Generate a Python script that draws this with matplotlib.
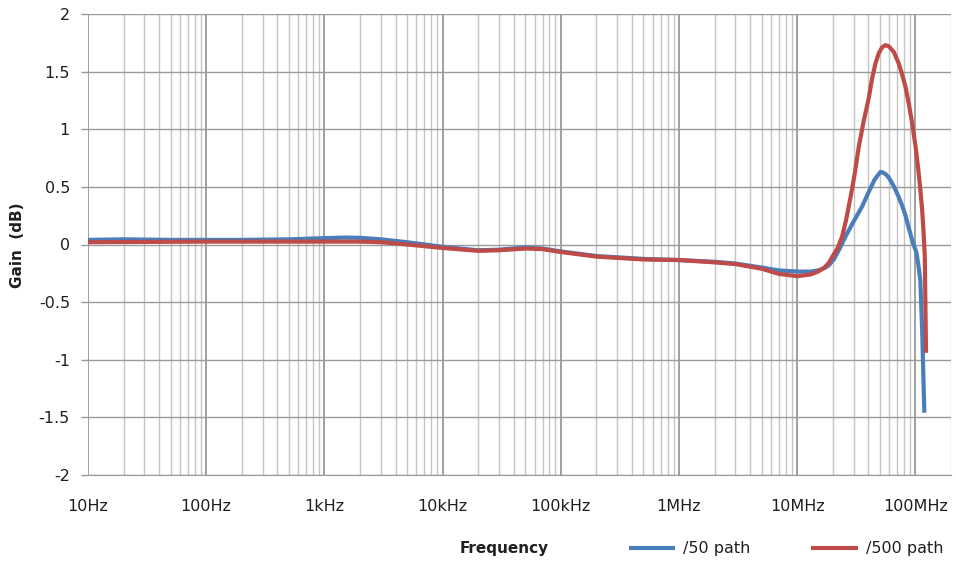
import matplotlib
matplotlib.use("Agg")
import matplotlib.pyplot as plt
from matplotlib.ticker import FixedLocator, NullFormatter, LogLocator

plt.rcParams['font.family'] = ['DejaVu Sans']

# ---- data ----
freq_50 = [10, 20, 50, 100, 200, 500, 1e3, 1.5e3, 2e3, 3e3, 5e3, 10e3, 20e3, 30e3,
           50e3, 70e3, 100e3, 200e3, 500e3, 1e6, 2e6, 3e6, 5e6, 7e6, 10e6, 13e6,
           15e6, 17e6, 18.5e6, 20.4e6, 23e6, 25.6e6, 30e6, 35.4e6, 40e6, 45e6, 48e6,
           50.6e6, 53e6, 56e6, 59e6, 62e6, 66e6, 72e6, 77e6, 82e6, 88e6, 95e6, 102e6,
           106e6, 110e6, 114e6, 119e6]
gain_50 = [0.04, 0.045, 0.04, 0.04, 0.04, 0.045, 0.055, 0.06, 0.058, 0.045, 0.02,
           -0.02, -0.05, -0.045, -0.025, -0.035, -0.06, -0.1, -0.125, -0.135, -0.15,
           -0.165, -0.2, -0.225, -0.235, -0.235, -0.225, -0.205, -0.18, -0.13, -0.03,
           0.07, 0.2, 0.33, 0.45, 0.56, 0.60, 0.63, 0.625, 0.61, 0.585, 0.55, 0.50,
           0.415, 0.34, 0.26, 0.14, 0.02, -0.07, -0.18, -0.31, -0.74, -1.46]

freq_500 = [10, 100, 1e3, 2e3, 3e3, 5e3, 10e3, 20e3, 30e3, 50e3, 70e3, 100e3, 200e3,
            500e3, 1e6, 2e6, 3e6, 5e6, 7e6, 10e6, 13e6, 15e6, 17e6, 18.5e6, 20e6, 22e6,
            24e6, 26e6, 28.3e6, 30.5e6, 33.2e6, 36.5e6, 40.3e6, 43e6, 45.9e6, 49e6,
            52.2e6, 55.8e6, 59.5e6, 65.7e6, 72.3e6, 77e6, 82.4e6, 88e6, 93.6e6, 100e6,
            105e6, 110e6, 114e6, 117e6, 120e6, 123e6]
gain_500 = [0.02, 0.025, 0.025, 0.025, 0.02, 0.0, -0.03, -0.055, -0.05, -0.035, -0.04,
            -0.065, -0.105, -0.13, -0.135, -0.155, -0.17, -0.21, -0.255, -0.275, -0.26,
            -0.235, -0.2, -0.16, -0.1, -0.03, 0.07, 0.22, 0.415, 0.6, 0.85, 1.07, 1.27,
            1.44, 1.57, 1.66, 1.71, 1.73, 1.72, 1.67, 1.57, 1.48, 1.37, 1.22, 1.06, 0.86,
            0.68, 0.48, 0.3, 0.12, -0.1, -0.94]

x_ticks = [10, 100, 1e3, 1e4, 1e5, 1e6, 1e7, 1e8]
x_labels = ["10Hz", "100Hz", "1kHz", "10kHz", "100kHz", "1MHz", "10MHz", "100MHz"]
y_ticks = [-2, -1.5, -1, -0.5, 0, 0.5, 1, 1.5, 2]
y_labels = ["-2", "-1.5", "-1", "-0.5", "0", "0.5", "1", "1.5", "2"]
series_names = ["/50 path", "/500 path"]

# ---- figure ----
W, H = 956, 562
fig = plt.figure(figsize=(W / 100, H / 100), dpi=100)
ax = fig.add_axes([88 / W, 1 - 475 / H, (951 - 88) / W, (475 - 14) / H])

blue = "#4a7ebb"
red = "#be4b48"
txt = "#1f1f1f"

ax.set_xscale("log")
ax.set_xlim(10, 2e8)
ax.set_ylim(-2, 2)

ax.xaxis.set_major_locator(FixedLocator(x_ticks))
ax.set_xticklabels(x_labels)
ax.xaxis.set_minor_locator(LogLocator(base=10, subs=range(2, 10), numticks=20))
ax.xaxis.set_minor_formatter(NullFormatter())
ax.set_yticks(y_ticks)
ax.set_yticklabels(y_labels)

ax.grid(True, which="major", axis="x", color="#858585", linewidth=1.1)
ax.grid(True, which="minor", axis="x", color="#c4c4c4", linewidth=1.0)
ax.grid(True, which="major", axis="y", color="#9a9a9a", linewidth=1.0)
ax.set_axisbelow(True)

for s in ax.spines.values():
    s.set_visible(False)
ax.spines["bottom"].set_visible(True)
ax.spines["bottom"].set_color("#9a9a9a")

ax.tick_params(axis="x", which="both", length=0, pad=17, labelsize=11.5, colors=txt)
ax.tick_params(axis="y", which="both", length=5, width=1.0, color="#9a9a9a",
               pad=8, labelsize=11.5, labelcolor=txt)

l1, = ax.plot(freq_50, gain_50, color=blue, linewidth=3.0, solid_capstyle="butt",
              solid_joinstyle="round", label=series_names[0], zorder=3)
l2, = ax.plot(freq_500, gain_500, color=red, linewidth=3.0, solid_capstyle="butt",
              solid_joinstyle="round", label=series_names[1], zorder=4)

fig.text(18 / W, 1 - 245 / H, "Gain  (dB)", rotation=90, ha="center", va="center",
         fontsize=11, fontweight="bold", color=txt)
fig.text(504 / W, 1 - 549 / H, "Frequency", ha="center", va="center",
         fontsize=11, fontweight="bold", color=txt)

leg = fig.legend(handles=[l1, l2], loc="center left", bbox_to_anchor=(629 / W, 1 - 549 / H),
                 ncol=2, frameon=False, fontsize=11.5, handlelength=2.9, handletextpad=0.5,
                 columnspacing=3.8, borderaxespad=0, borderpad=0)
for t in leg.get_texts():
    t.set_color(txt)

fig.savefig("out.png", dpi=100)
